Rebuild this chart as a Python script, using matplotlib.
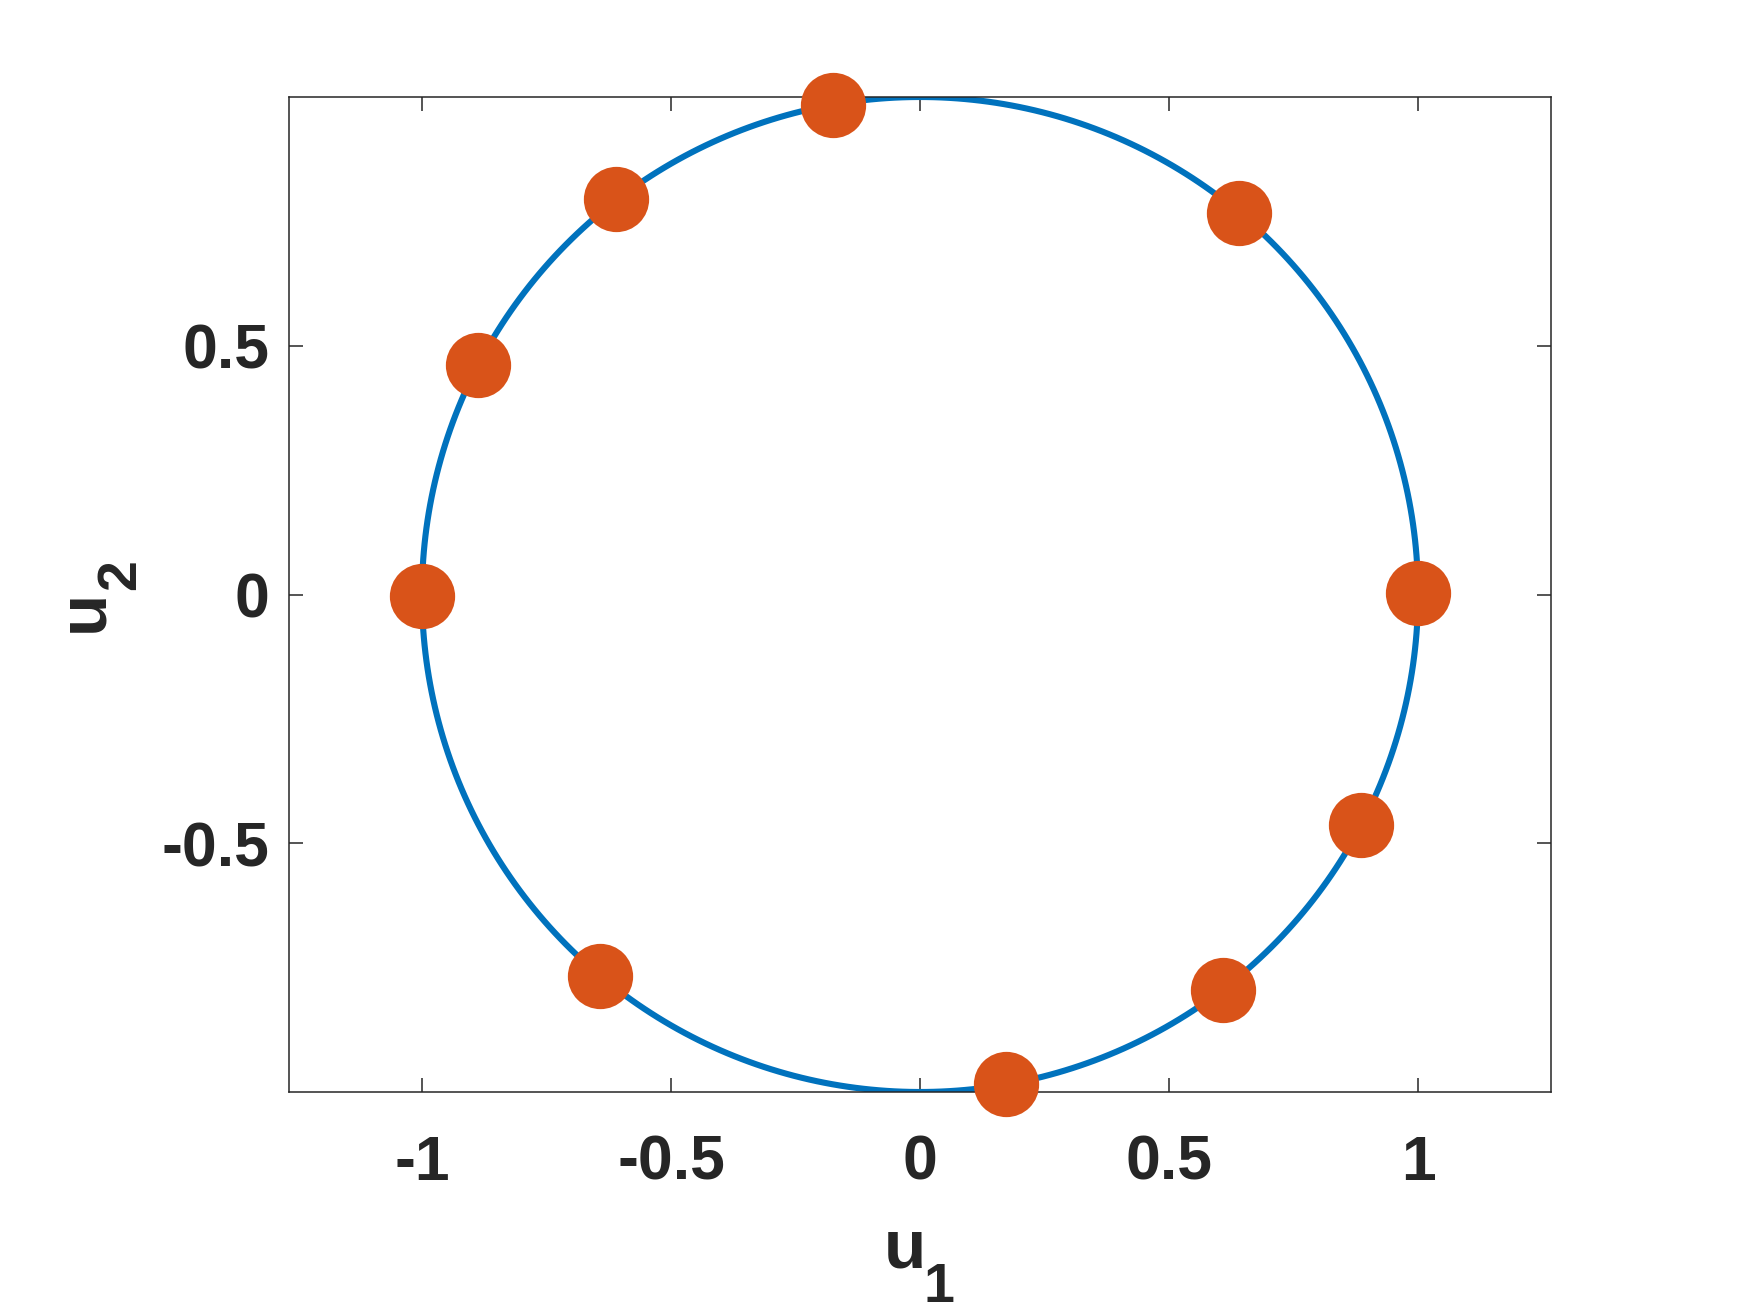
# Unit circle with sample points on it (MATLAB-style figure)
import numpy as np
import matplotlib
matplotlib.use("Agg")
import matplotlib.pyplot as plt

plt.rcParams['font.family'] = ['Liberation Sans', 'DejaVu Sans']
plt.rcParams['font.weight'] = 'bold'

# Points
u1_pts = [-0.175, -0.611, -0.887, -1.000, -0.643, 0.172, 0.609, 0.885, 0.999, 0.640]
u2_pts = [0.984, 0.794, 0.462, -0.004, -0.767, -0.984, -0.794, -0.464, 0.004, 0.767]

x_ticks = [-1, -0.5, 0, 0.5, 1]
y_ticks = [-0.5, 0, 0.5]
tick_labels_x = ['-1', '-0.5', '0', '0.5', '1']
tick_labels_y = ['-0.5', '0', '0.5']

# unit circle
theta = np.linspace(0, 2 * np.pi, 400)

W, H = 1750, 1313
fig = plt.figure(figsize=(W / 100, H / 100), dpi=100)
ax = fig.add_axes([289 / W, 1 - 1092 / H, (1551 - 289) / W, (1092 - 97) / H])

ax.plot(np.cos(theta), np.sin(theta), color='#0072BD', lw=4.4, zorder=2)
ax.plot(u1_pts, u2_pts, 'o', color='#D95319', ms=47, mec='none', zorder=3,
        clip_on=False)

ax.set_xlim(-1.267, 1.267)
ax.set_ylim(-1.0, 1.0)
ax.set_xticks(x_ticks)
ax.set_xticklabels(tick_labels_x)
ax.set_yticks(y_ticks)
ax.set_yticklabels(tick_labels_y)

ax.tick_params(direction='in', length=10, width=1.1, colors='#262626',
               labelsize=45, top=True, right=True)
ax.tick_params(axis='x', pad=30)
ax.tick_params(axis='y', pad=14)
for s in ax.spines.values():
    s.set_color('#262626')
    s.set_linewidth(1.1)

# axis labels u_1, u_2 (big MATLAB-like subscripts), placed by baseline
lab = dict(color='#262626', fontweight='bold', rotation_mode='anchor',
           ha='center', va='baseline')
fig.text(905 / W, 1 - 1267 / H, 'u', fontsize=50, **lab)
fig.text(939 / W, 1 - 1302 / H, '1', fontsize=40, **lab)
fig.text(102 / W, 1 - 611 / H, 'u', fontsize=50, rotation=90, **lab)
fig.text(135 / W, 1 - 575 / H, '2', fontsize=40, rotation=90, **lab)

fig.savefig('out.png', dpi=100)
